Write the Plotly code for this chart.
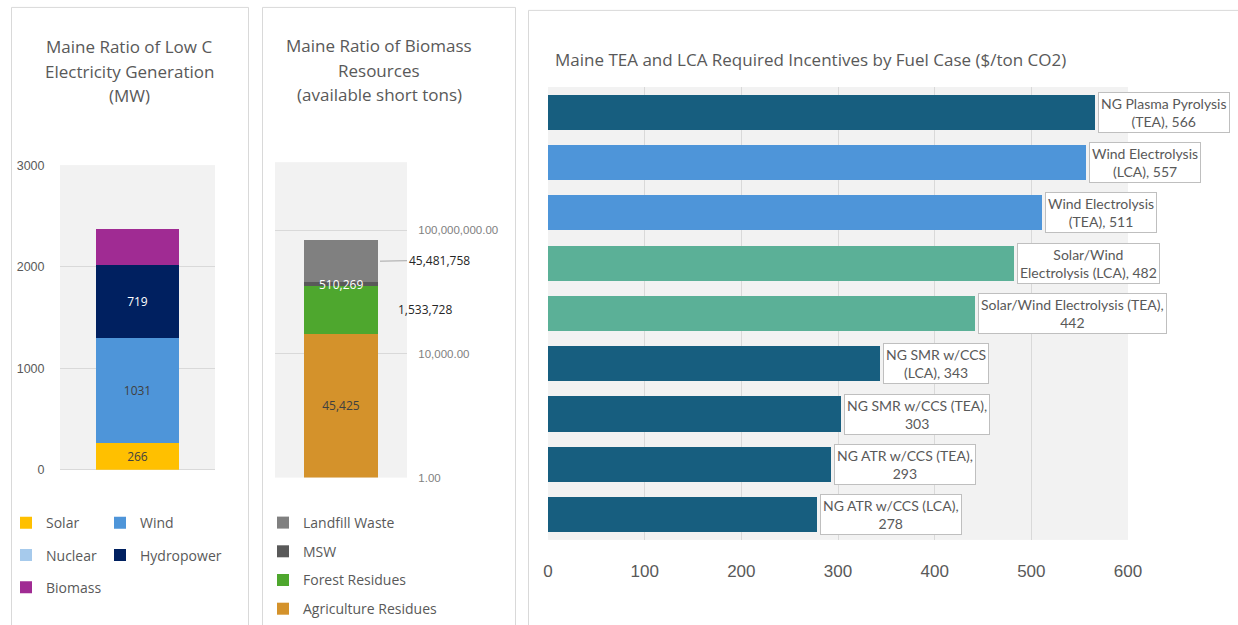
import numpy as np
import plotly.graph_objects as go

W, H = 1238, 625

# ---------------- data ----------------
# Maine low-carbon electricity generation (MW)
gen_sources = ["Solar", "Wind", "Nuclear", "Hydropower", "Biomass"]
gen_mw = [266, 1031, 0, 719, 350]
gen_ticks = [0, 1000, 2000, 3000]

# Maine biomass resources (available short tons), stacked bottom-up
bio_sources = ["Agriculture Residues", "Forest Residues", "MSW", "Landfill Waste"]
bio_tons = [45425, 1533728, 510269, 45481758]
bio_ticks = [1, 1e4, 1e8]

# Required incentives by fuel case ($/ton CO2), top to bottom
fuel_cases = [
    "NG Plasma Pyrolysis (TEA)",
    "Wind Electrolysis (LCA)",
    "Wind Electrolysis (TEA)",
    "Solar/Wind Electrolysis (LCA)",
    "Solar/Wind Electrolysis (TEA)",
    "NG SMR w/CCS (LCA)",
    "NG SMR w/CCS (TEA)",
    "NG ATR w/CCS (TEA)",
    "NG ATR w/CCS (LCA)",
]
incentives = [566, 557, 511, 482, 442, 343, 303, 293, 278]
case_labels = [
    "NG Plasma Pyrolysis<br>(TEA), {v}",
    "Wind Electrolysis<br>(LCA), {v}",
    "Wind Electrolysis<br>(TEA), {v}",
    "Solar/Wind<br>Electrolysis (LCA), {v}",
    "Solar/Wind Electrolysis (TEA),<br>{v}",
    "NG SMR w/CCS<br>(LCA), {v}",
    "NG SMR w/CCS (TEA),<br>{v}",
    "NG ATR w/CCS (TEA),<br>{v}",
    "NG ATR w/CCS (LCA),<br>{v}",
]
incentive_ticks = [0, 100, 200, 300, 400, 500, 600]

# ---------------- styling ----------------
gen_colors = ["#FFC000", "#4E95D9", "#A6CAEC", "#002060", "#A02B93"]
gen_text_colors = ["#404040", "#404040", "#404040", "#FFFFFF", "#FFFFFF"]
gen_labelled = {"Solar", "Wind", "Hydropower"}

bio_colors = ["#D4922B", "#4EA72E", "#595959", "#808080"]
case_palette = {"NG": "#175E7F", "Wind": "#4E95D9", "Solar/Wind": "#5BB097"}
case_colors = [case_palette[c.split(" ")[0]] for c in fuel_cases]

GRAY = "#595959"
GRID = "#D9D9D9"
TITLE_FONT = "Open Sans, Liberation Sans, sans-serif"
BODY_FONT = "Open Sans, Liberation Sans, sans-serif"
TICK_FONT = "Liberation Sans, Arial, sans-serif"
LABEL_FONT = "Lato, Liberation Sans, sans-serif"


def fx(px):
    return px / W


def fy(py):
    return 1 - py / H


fig = go.Figure()

# ---- stacked generation bar ----
for i, (src, mw) in enumerate(zip(gen_sources, gen_mw)):
    labelled = src in gen_labelled
    fig.add_trace(go.Bar(
        x=["Maine"], y=[mw], name=src, width=[0.54],
        marker=dict(color=gen_colors[i], line=dict(width=0)),
        xaxis="x", yaxis="y",
        legend="legend" if i % 2 == 0 else "legend2", legendgroup=src,
        texttemplate="%{y}" if labelled else "",
        textposition="inside", insidetextanchor="middle", textangle=0,
        textfont=dict(family=BODY_FONT, size=12, color=gen_text_colors[i]),
        hoverinfo="name+y",
    ))

# ---- stacked biomass bar (log axis); legend lists the top segment first ----
n_bio = len(bio_sources)
for i, (src, t) in enumerate(zip(bio_sources, bio_tons)):
    fig.add_trace(go.Bar(
        x=["Maine"], y=[t], name=src, width=[0.56],
        marker=dict(color=bio_colors[i], line=dict(width=0)),
        xaxis="x2", yaxis="y2",
        legend="legend3", legendgroup=src, legendrank=100 + n_bio - i,
        texttemplate="%{y:,}" if i == 0 else "",
        textposition="inside", insidetextanchor="middle", textangle=0,
        textfont=dict(family=BODY_FONT, size=12, color="#404040"),
        hoverinfo="name+y",
    ))

# ---- horizontal incentives bars ----
fig.add_trace(go.Bar(
    x=incentives, y=fuel_cases, orientation="h", width=0.7,
    marker=dict(color=case_colors, line=dict(width=0)),
    xaxis="x3", yaxis="y3", showlegend=False, hoverinfo="y+x",
))

annotations = []


def title_lines(lines, xc, y0, dy, size):
    for k, line in enumerate(lines):
        annotations.append(dict(
            text=line, x=fx(xc), y=fy(y0 + k * dy), xref="paper", yref="paper",
            xanchor="center", yanchor="middle", showarrow=False,
            font=dict(family=TITLE_FONT, size=size, color=GRAY),
        ))


title_lines(["Maine Ratio of Low C", "Electricity Generation", "(MW)"], 129, 47, 25, 17)
title_lines(["Maine Ratio of Biomass", "Resources", "(available short tons)"], 379, 46, 25, 17)
annotations.append(dict(
    text="Maine TEA and LCA Required Incentives by Fuel Case ($/ton CO2)",
    x=fx(553), y=fy(60), xref="paper", yref="paper", xanchor="left", yanchor="middle",
    showarrow=False, font=dict(family=TITLE_FONT, size=17, color=GRAY),
))

# biomass segment labels, placed at each segment's log-midpoint
tops = np.cumsum(bio_tons)
bottoms = tops - np.array(bio_tons)
mids = [(np.log10(max(b, 1)) + np.log10(t)) / 2 for b, t in zip(bottoms, tops)]

annotations.append(dict(  # Forest Residues
    text=f"{bio_tons[1]:,}", x="Maine", y=mids[1], xref="x2", yref="y2",
    xshift=84, showarrow=False,
    font=dict(family=BODY_FONT, size=12, color="#262626"),
))
annotations.append(dict(  # MSW
    text=f"{bio_tons[2]:,}", x="Maine", y=mids[2], xref="x2", yref="y2",
    showarrow=False, font=dict(family=BODY_FONT, size=12, color="#FFFFFF"),
))
annotations.append(dict(  # Landfill Waste, with leader line
    text=f"{bio_tons[3]:,}", x="Maine", y=mids[3], xref="x2", yref="y2",
    xshift=39, showarrow=True, arrowhead=0, arrowwidth=1, arrowcolor="#A6A6A6",
    ax=59, ay=-1, standoff=0,
    font=dict(family=BODY_FONT, size=12, color="#262626"),
))

# incentive data labels
for case, v, tpl in zip(fuel_cases, incentives, case_labels):
    annotations.append(dict(
        text=tpl.format(v=v), x=v, y=case, xref="x3", yref="y3",
        xanchor="left", yanchor="middle", xshift=3, showarrow=False, align="center",
        bgcolor="#FFFFFF", bordercolor="#BFBFBF", borderwidth=1, borderpad=2,
        font=dict(family=LABEL_FONT, size=14, color=GRAY),
    ))

# panel frames (open at the bottom edge of the page)
frame = dict(type="rect", xref="paper", yref="paper",
             line=dict(color=GRID, width=1), fillcolor="rgba(0,0,0,0)", layer="below")
shapes = [
    dict(frame, x0=fx(11.5), x1=fx(248.5), y0=fy(660), y1=fy(7.5)),
    dict(frame, x0=fx(262.5), x1=fx(515.5), y0=fy(660), y1=fy(7.5)),
    dict(frame, x0=fx(528.5), x1=fx(1260), y0=fy(660), y1=fy(10.5)),
]

legend_common = dict(
    orientation="v", xanchor="left", yanchor="top", bgcolor="rgba(0,0,0,0)",
    font=dict(family=BODY_FONT, size=14, color=GRAY), traceorder="grouped",
    itemclick=False, itemdoubleclick=False,
)

fig.update_layout(
    template="none",
    width=W, height=H, margin=dict(l=0, r=0, t=0, b=0),
    paper_bgcolor="#FFFFFF", plot_bgcolor="#F2F2F2",
    barmode="stack",
    showlegend=True,
    legend=dict(legend_common, x=fx(6), y=fy(513), tracegroupgap=11),
    legend2=dict(legend_common, x=fx(100), y=fy(513), tracegroupgap=11),
    legend3=dict(legend_common, x=fx(263), y=fy(513), tracegroupgap=7.5),
    xaxis=dict(domain=[fx(60), fx(215)], anchor="y", range=[-0.5, 0.5],
               showticklabels=False, showgrid=False, zeroline=False, ticks=""),
    yaxis=dict(domain=[fy(475), fy(167)], anchor="x", range=[0, 3000],
               tickvals=gen_ticks, tickformat="d", showgrid=True, gridcolor=GRID,
               zeroline=True, zerolinecolor=GRID, zerolinewidth=1,
               ticks="outside", ticklen=12, tickcolor="rgba(0,0,0,0)",
               tickfont=dict(family=TICK_FONT, size=12.5, color=GRAY)),
    xaxis2=dict(domain=[fx(275), fx(407)], anchor="y2", range=[-0.5, 0.5],
                showticklabels=False, showgrid=False, zeroline=False, ticks=""),
    yaxis2=dict(domain=[fy(483), fy(164)], anchor="x2", type="log", side="right",
                range=[0, 10.2], tickvals=bio_ticks, tickformat=",.2f",
                showgrid=True, gridcolor=GRID, zeroline=False,
                ticks="outside", ticklen=8, tickcolor="rgba(0,0,0,0)",
                tickfont=dict(family=TICK_FONT, size=11.5, color="#7F7F7F")),
    xaxis3=dict(domain=[fx(548), fx(1128)], anchor="y3", range=[0, 600],
                tickvals=incentive_ticks, showgrid=True, gridcolor=GRID,
                zeroline=False, ticks="outside", ticklen=16,
                tickcolor="rgba(0,0,0,0)",
                tickfont=dict(family=TICK_FONT, size=17, color=GRAY)),
    yaxis3=dict(domain=[fy(546), fy(88)], anchor="x3", type="category",
                categoryorder="array", categoryarray=fuel_cases,
                range=[len(fuel_cases) - 0.5, -0.5],
                showticklabels=False, showgrid=False, zeroline=False, ticks=""),
    annotations=annotations,
    shapes=shapes,
)

fig.write_html("out.html")
